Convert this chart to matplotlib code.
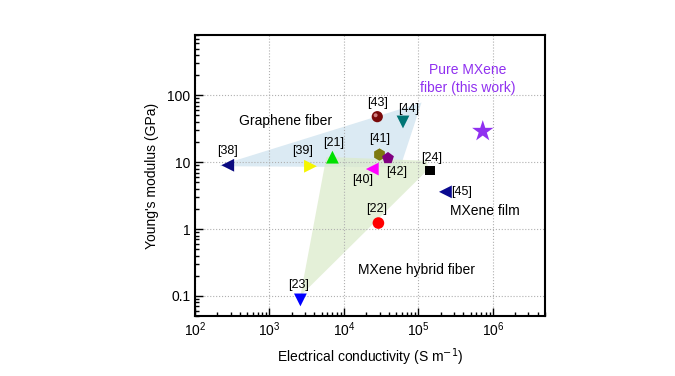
import numpy as np
from matplotlib import pyplot as plt
from matplotlib.patches import Polygon

plt.rcParams['font.family'] = ['Liberation Sans', 'DejaVu Sans']

# data points: (label, conductivity S/m, modulus GPa)
refs = ['[38]', '[39]', '[21]', '[43]', '[44]', '[41]', '[42]', '[40]', '[24]', '[45]', '[22]', '[23]']
cond = [275, 3550, 7000, 28000, 62000, 30000, 39000, 24000, 143000, 230000, 29000, 2600]
modulus = [9.0, 8.7, 11.9, 48, 40, 13, 11.5, 7.9, 7.6, 3.6, 1.23, 0.087]
markers = ['<', '>', '^', 'o', 'v', 'h', 'p', '<', 's', '<', 'o', 'v']
colors = ['#0a0a80', '#f5f500', '#00e000', '#7a0a0a', '#007575', '#7d7a10', '#800080',
          '#ff00ff', '#000000', '#0a0a90', '#ff0000', '#0000ff']
sizes = [85, 85, 85, 65, 85, 80, 80, 85, 45, 85, 70, 85]
# label offsets in points
offs = [(0, 10), (-6, 11), (1, 10), (0, 10), (4, 9), (0, 11), (6, -10), (-7, -8),
        (1, 9), (12, 0), (-1, 10), (-1, 11)]

this_work = (7.3e5, 29)

graphene_x = [216, 1.1e5, 5.7e4, 216]
graphene_y = [9.0, 78, 8.4, 8.7]
hybrid_x = [2600, 5800, 1.3e5, 1.35e5]
hybrid_y = [0.1, 12, 10.5, 7.8]

fig = plt.figure(figsize=(6.75, 3.76), dpi=100)
ax = fig.add_axes([0.2889, 0.1596, 0.5185, 0.7473])
ax.set_xscale('log')
ax.set_yscale('log')
ax.set_xlim(1e2, 5e6)
ax.set_ylim(0.05, 800)

ax.add_patch(Polygon(np.column_stack([graphene_x, graphene_y]), closed=True,
                     facecolor='#cfe3ef', edgecolor='none', alpha=0.75, zorder=1))
ax.add_patch(Polygon(np.column_stack([hybrid_x, hybrid_y]), closed=True,
                     facecolor='#dcebcb', edgecolor='none', alpha=0.75, zorder=1))

ax.grid(True, which='major', linestyle=':', color='#b0b0b0', linewidth=0.8, zorder=0)

for r, x, y, m, c, s, o in zip(refs, cond, modulus, markers, colors, sizes, offs):
    ax.scatter(x, y, marker=m, color=c, s=s, edgecolors='none', zorder=3)
    ax.annotate(r, (x, y), xytext=o, textcoords='offset points',
                ha='center', va='center', fontsize=9, zorder=4)

# highlight on sphere [43]
ax.scatter(cond[3] * 0.95, modulus[3] * 1.05, marker='o', color='#d08080', s=8,
           edgecolors='none', zorder=3)

ax.scatter(*this_work, marker='*', color='#9030f0', s=260, edgecolors='none', zorder=3)

ax.text(4.6e5, 176, 'Pure MXene\nfiber (this work)', color='#9030f0', fontsize=10,
        ha='center', va='center', linespacing=1.3)
ax.text(1660, 42, 'Graphene fiber', fontsize=10, ha='center', va='center')
ax.text(7.9e5, 1.87, 'MXene film', fontsize=10, ha='center', va='center')
ax.text(9.4e4, 0.24, 'MXene hybrid fiber', fontsize=10, ha='center', va='center')

ax.set_xticks([1e2, 1e3, 1e4, 1e5, 1e6])
ax.set_yticks([0.1, 1, 10, 100])
ax.set_yticklabels(['0.1', '1', '10', '100'])
ax.tick_params(which='both', direction='in', top=False, right=False, labelsize=10)
ax.tick_params(which='major', length=6, width=1)
ax.tick_params(which='minor', length=3, width=1)
for sp in ax.spines.values():
    sp.set_linewidth(1.5)

ax.set_xlabel('Electrical conductivity (S m$^{-1}$)', fontsize=10, labelpad=5)
ax.set_ylabel("Young's modulus (GPa)", fontsize=10, labelpad=6)

fig.savefig('out.png', dpi=100)
